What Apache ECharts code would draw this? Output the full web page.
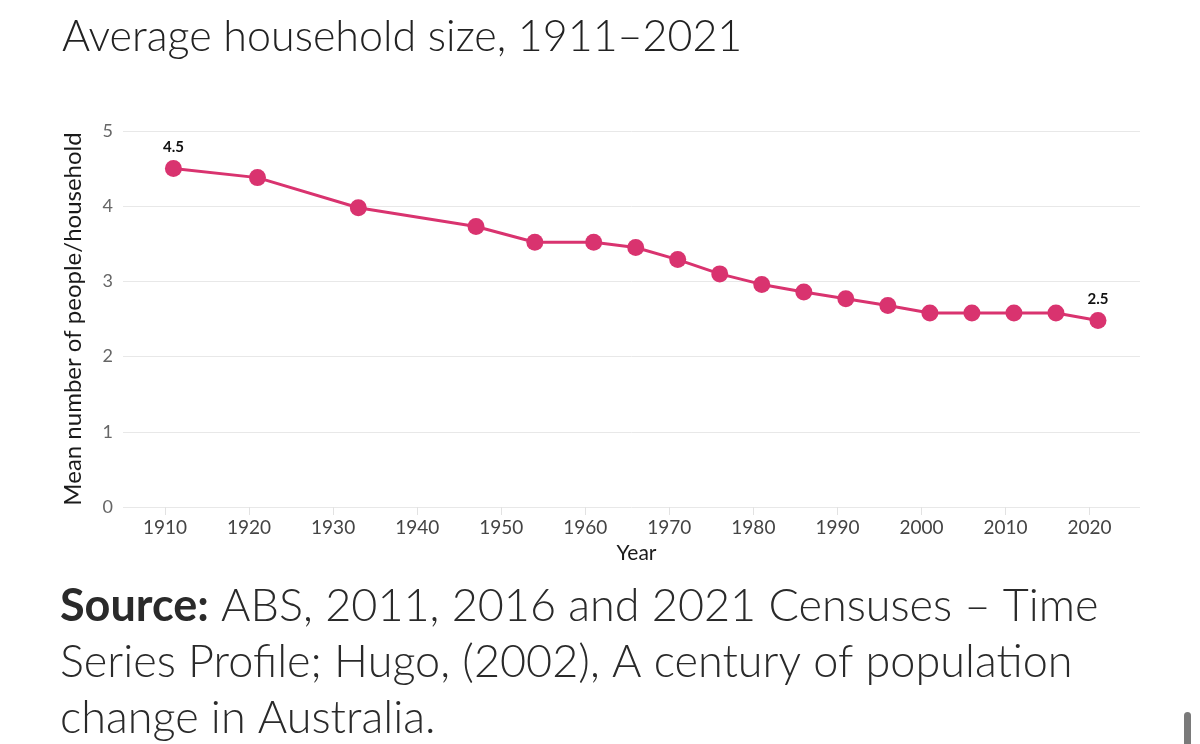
<!DOCTYPE html>
<html>
<head>
<meta charset="utf-8">
<script src="https://cdn.jsdelivr.net/npm/echarts@6/dist/echarts.min.js"></script>
<style>
html,body{margin:0;padding:0;background:#fff;}
#chart{width:1200px;height:744px;}
</style>
</head>
<body>
<div id="chart"></div>
<script>
const years = [1911, 1921, 1933, 1947, 1954, 1961, 1966, 1971, 1976, 1981, 1986, 1991, 1996, 2001, 2006, 2011, 2016, 2021];
const householdSize = [4.5, 4.38, 3.98, 3.73, 3.52, 3.52, 3.45, 3.29, 3.1, 2.96, 2.86, 2.77, 2.68, 2.58, 2.58, 2.58, 2.58, 2.48];
const xTickLabels = [1910, 1920, 1930, 1940, 1950, 1960, 1970, 1980, 1990, 2000, 2010, 2020];
const yTickLabels = [0, 1, 2, 3, 4, 5];
const labelledYears = [1911, 2021];
const titleText = 'Average household size, 1911\u20132021';
const sourceLines = [
  ['Source:', ' ABS, 2011, 2016 and 2021 Censuses \u2013 Time'],
  ['', 'Series Profile; Hugo, (2002), A century of population'],
  ['', 'change in Australia.']
];

const FONT = 'Lato, "Noto Sans", sans-serif';
const PINK = '#d9336f';

const seriesData = years.map((y, i) => {
  const item = { value: [y, householdSize[i]] };
  if (labelledYears.includes(y)) {
    item.label = { show: true };
  }
  return item;
});

const sourceRich = sourceLines.map(l => (l[0] ? '{b|' + l[0] + '}' : '') + '{n|' + l[1] + '}').join('\n');

const chart = echarts.init(document.getElementById('chart'));
chart.setOption({
  backgroundColor: '#ffffff',
  animation: false,
  title: {
    text: titleText,
    left: 57,
    top: 11,
    textStyle: { fontFamily: FONT, fontSize: 43, fontWeight: 300, color: '#222' }
  },
  grid: { left: 123, right: 60, top: 131, bottom: 237 },
  xAxis: {
    type: 'value',
    min: 1905,
    max: 2026,
    name: 'Year',
    nameLocation: 'middle',
    nameGap: 36,
    nameTextStyle: { fontFamily: FONT, fontSize: 21, color: '#1a1a1a', padding: [0, 0, 0, 10] },
    axisLine: { show: false },
    splitLine: { show: false },
    axisTick: { show: true, length: 8, lineStyle: { color: '#e2e2e2' }, customValues: xTickLabels },
    axisLabel: { customValues: xTickLabels, margin: 11, fontFamily: FONT, fontSize: 19, color: '#444', formatter: v => String(v) }
  },
  yAxis: {
    type: 'value',
    min: 0,
    max: 5,
    interval: 1,
    name: 'Mean number of people/household',
    nameLocation: 'middle',
    nameGap: 38,
    nameRotate: 90,
    nameTextStyle: { fontFamily: FONT, fontSize: 24, color: '#1a1a1a' },
    axisLine: { show: false },
    axisTick: { show: false },
    axisLabel: { margin: 10, fontFamily: FONT, fontSize: 18, color: '#666' },
    splitLine: { lineStyle: { color: '#e8e8e8', width: 1 } }
  },
  series: [{
    type: 'line',
    data: seriesData,
    symbol: 'circle',
    symbolSize: 17,
    lineStyle: { color: PINK, width: 3 },
    itemStyle: { color: PINK },
    label: {
      show: false,
      position: 'top',
      distance: 5,
      fontFamily: FONT,
      fontSize: 15,
      fontWeight: 'bold',
      color: '#111',
      formatter: p => p.value[1].toFixed(1)
    }
  }],
  graphic: [
    {
      type: 'text',
      left: 60,
      top: 584,
      style: {
        text: sourceRich,
        rich: {
          b: { fontFamily: FONT, fontSize: 45, fontWeight: 'bold', fill: '#2a2a2a', lineHeight: 56 },
          n: { fontFamily: FONT, fontSize: 45, fontWeight: 300, fill: '#2a2a2a', lineHeight: 56 }
        }
      }
    },
    {
      type: 'rect',
      left: 1184,
      top: 712,
      shape: { width: 7, height: 40, r: 3.5 },
      style: { fill: '#7a7a7a' }
    }
  ]
});
</script>
</body>
</html>
